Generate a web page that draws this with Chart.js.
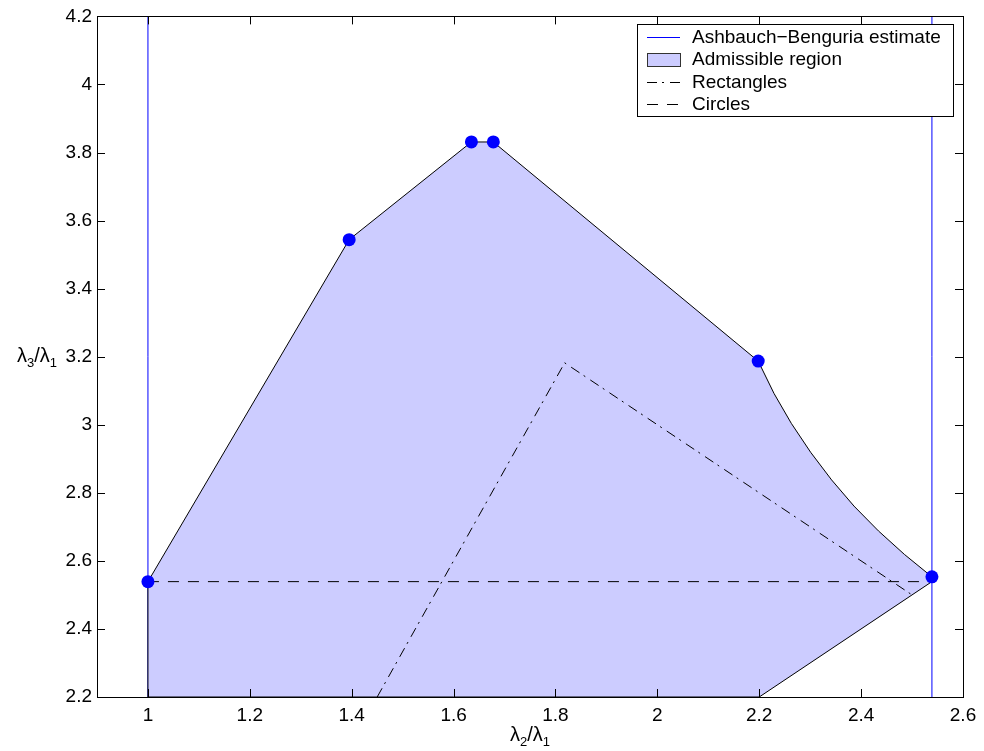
<!DOCTYPE html>
<html>
<head>
<meta charset="utf-8">
<script src="https://cdn.jsdelivr.net/npm/chart.js@4/dist/chart.umd.min.js"></script>
<style>
  html, body { margin: 0; padding: 0; background: #fff; }
  #wrap { width: 984px; height: 751px; }
</style>
</head>
<body>
<div id="wrap"><canvas id="chart" width="984" height="751"></canvas></div>
<script>
// tick labels
const xTicks = [1, 1.2, 1.4, 1.6, 1.8, 2, 2.2, 2.4, 2.6];
const yTicks = [2.2, 2.4, 2.6, 2.8, 3, 3.2, 3.4, 3.6, 3.8, 4, 4.2];

// upper edge of the admissible region
const upperX = [1, 1.395, 1.635, 1.678, 2.198, 2.229, 2.263, 2.301, 2.342, 2.386, 2.434, 2.485, 2.539];
const upperY = [2.539, 3.544, 3.831, 3.831, 3.187, 3.092, 3.004, 2.919, 2.838, 2.761, 2.688, 2.619, 2.553];
// closing of the region: down the lambda3 = lambda2 line, along the bottom, up x = 1
const closeX = [2.539, 2.2, 1, 1];
const closeY = [2.539, 2.2, 2.2, 2.539];

// marked vertices
const dotX = [1, 1.395, 1.635, 1.678, 2.198, 2.539];
const dotY = [2.539, 3.544, 3.831, 3.831, 3.187, 2.553];

// Ashbauch-Benguria bounds on lambda2/lambda1
const abX = [1, 2.539];

// rectangles and circles
const rectX = [1.45, 1.818, 2.5];
const rectY = [2.2, 3.182, 2.5];
const circX = [1, 2.539];
const circY = [2.539, 2.539];

const legendLabels = ['Ashbauch\u2212Benguria estimate', 'Admissible region', 'Rectangles', 'Circles'];

const FONT = '"Liberation Sans", Arial, Helvetica, sans-serif';
const pts = (xs, ys) => xs.map((x, i) => ({x: x, y: ys[i]}));

const region = pts(upperX, upperY).concat(pts(closeX, closeY));

const datasets = [
  { label: 'dots', data: pts(dotX, dotY), showLine: false, pointRadius: 6.5,
    pointBackgroundColor: '#0000ff', pointBorderWidth: 0, order: 0 },
  { label: legendLabels[3], data: pts(circX, circY), showLine: true, pointRadius: 0,
    borderColor: '#000', borderWidth: 1, borderDash: [11, 9], order: 1 },
  { label: legendLabels[2], data: pts(rectX, rectY), showLine: true, pointRadius: 0,
    borderColor: '#000', borderWidth: 1, borderDash: [10, 5, 2, 6], order: 2 },
  { label: legendLabels[1], data: region, showLine: true, pointRadius: 0, fill: 'shape',
    backgroundColor: '#ccccff', borderColor: '#000', borderWidth: 1, order: 3 },
  { label: legendLabels[0], data: [{x: abX[0], y: 2.2}, {x: abX[0], y: 4.2}], showLine: true,
    pointRadius: 0, borderColor: '#0000ff', borderWidth: 1, order: 4 },
  { label: 'ab2', data: [{x: abX[1], y: 2.2}, {x: abX[1], y: 4.2}], showLine: true,
    pointRadius: 0, borderColor: '#0000ff', borderWidth: 1, order: 5 }
];

// text with subscripts like lambda_2/lambda_1
const drawSub = (ctx, parts, x, y, align) => {
  const big = '20px ' + FONT, small = '13px ' + FONT;
  let w = 0;
  parts.forEach(p => { ctx.font = p[1] ? small : big; w += ctx.measureText(p[0]).width; });
  let cx = align === 'right' ? x - w : (align === 'center' ? x - w / 2 : x);
  ctx.textAlign = 'left';
  ctx.textBaseline = 'alphabetic';
  parts.forEach(p => {
    ctx.font = p[1] ? small : big;
    ctx.fillText(p[0], cx, p[1] ? y + 5 : y);
    cx += ctx.measureText(p[0]).width;
  });
};

const framePlugin = {
  id: 'frame',
  afterDatasetsDraw(chart) {
    const ctx = chart.ctx, a = chart.chartArea;
    const xs = chart.scales.x, ys = chart.scales.y;
    ctx.save();
    ctx.strokeStyle = '#000';
    ctx.lineWidth = 1;
    ctx.strokeRect(Math.round(a.left) + 0.5, Math.round(a.top) + 0.5,
      Math.round(a.right - a.left), Math.round(a.bottom - a.top));
    ctx.beginPath();
    xTicks.forEach(v => {
      const px = Math.round(xs.getPixelForValue(v)) + 0.5;
      ctx.moveTo(px, a.bottom); ctx.lineTo(px, a.bottom - 8);
      ctx.moveTo(px, a.top); ctx.lineTo(px, a.top + 8);
    });
    yTicks.forEach(v => {
      const py = Math.round(ys.getPixelForValue(v)) + 0.5;
      ctx.moveTo(a.left, py); ctx.lineTo(a.left + 8, py);
      ctx.moveTo(a.right, py); ctx.lineTo(a.right - 8, py);
    });
    ctx.stroke();

    // axis titles
    ctx.fillStyle = '#000';
    drawSub(ctx, [['\u03bb', 0], ['2', 1], ['/\u03bb', 0], ['1', 1]], (a.left + a.right) / 2, 741, 'center');
    drawSub(ctx, [['\u03bb', 0], ['3', 1], ['/\u03bb', 0], ['1', 1]], 57, (a.top + a.bottom) / 2 + 5, 'right');

    // legend box
    const lx = 637, ly = 24, lw = 316, lh = 92;
    ctx.fillStyle = '#fff';
    ctx.fillRect(lx, ly, lw, lh);
    ctx.strokeRect(lx + 0.5, ly + 0.5, lw, lh);
    const rowY = [37, 59, 82, 104];
    const sx0 = 647, sx1 = 680;
    ctx.font = '19px ' + FONT;
    ctx.textBaseline = 'middle';
    ctx.textAlign = 'left';
    legendLabels.forEach((lab, i) => {
      const ds = datasets.find(d => d.label === lab);
      const y = rowY[i] + 0.5;
      if (ds.fill) {
        ctx.fillStyle = ds.backgroundColor;
        ctx.fillRect(sx0, y - 6, sx1 - sx0, 13);
        ctx.strokeStyle = '#333';
        ctx.strokeRect(sx0 + 0.5, y - 6, sx1 - sx0, 13);
      } else {
        ctx.strokeStyle = ds.borderColor;
        ctx.setLineDash(ds.borderDash || []);
        ctx.beginPath();
        ctx.moveTo(sx0, y); ctx.lineTo(sx1, y);
        ctx.stroke();
        ctx.setLineDash([]);
      }
      ctx.fillStyle = '#000';
      ctx.fillText(lab, 692, rowY[i] + 1);
    });
    ctx.restore();
  }
};

new Chart(document.getElementById('chart').getContext('2d'), {
  type: 'scatter',
  data: { datasets: datasets },
  options: {
    responsive: false,
    animation: false,
    layout: { padding: { top: 14, right: 21, left: 0, bottom: 0 } },
    plugins: { legend: { display: false }, tooltip: { enabled: false } },
    scales: {
      x: {
        type: 'linear', min: 0.9, max: 2.6,
        afterBuildTicks: s => { s.ticks = xTicks.map(v => ({value: v})); },
        afterFit: s => { s.height = 54; },
        grid: { display: false, drawTicks: false },
        border: { display: false },
        ticks: { color: '#000', font: { family: FONT, size: 19 }, padding: 7, maxRotation: 0,
                 callback: v => String(v) }
      },
      y: {
        type: 'linear', min: 2.2, max: 4.2,
        afterBuildTicks: s => { s.ticks = yTicks.map(v => ({value: v})); },
        afterFit: s => { s.width = 97; },
        grid: { display: false, drawTicks: false },
        border: { display: false },
        ticks: { color: '#000', font: { family: FONT, size: 19 }, padding: 5,
                 callback: v => String(v) }
      }
    }
  },
  plugins: [framePlugin]
});
</script>
</body>
</html>
